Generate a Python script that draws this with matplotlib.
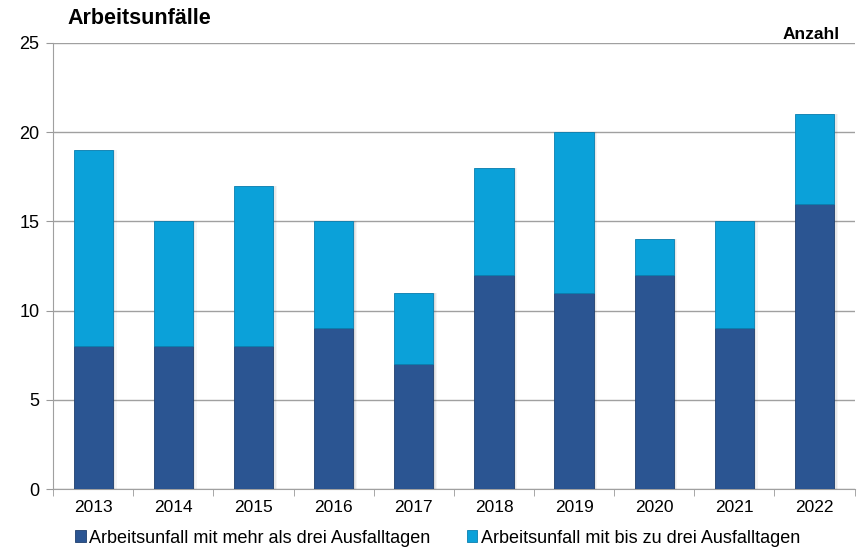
import matplotlib.pyplot as plt
import numpy as np

years = ['2013', '2014', '2015', '2016', '2017', '2018', '2019', '2020', '2021', '2022']
mehr_als_drei = [8, 8, 8, 9, 7, 12, 11, 12, 9, 16]
bis_zu_drei = [11, 7, 9, 6, 4, 6, 9, 2, 6, 5]

dark = '#2b5592'
light = '#0ba1d9'

plt.rcParams['font.family'] = ['Liberation Sans', 'DejaVu Sans']

fig = plt.figure(figsize=(8.58, 5.49), dpi=100)
ax = fig.add_axes([0.062, 0.109, 0.934, 0.813])

x = np.arange(len(years))
w = 0.49
totals = np.array(mehr_als_drei) + np.array(bis_zu_drei)

# soft drop shadow to the right of each bar
for off, a in [(0.045, 0.06), (0.03, 0.08), (0.015, 0.10)]:
    ax.bar(x + off, totals, w, color='#555555', alpha=a, linewidth=0, zorder=2)

ax.bar(x, mehr_als_drei, w, color=dark, edgecolor='#1f3f6e', linewidth=0.6,
       label='Arbeitsunfall mit mehr als drei Ausfalltagen', zorder=3)
ax.bar(x, bis_zu_drei, w, bottom=mehr_als_drei, color=light, edgecolor='#0a7fb0',
       linewidth=0.6, label='Arbeitsunfall mit bis zu drei Ausfalltagen', zorder=3)

ax.set_xlim(-0.5, len(years) - 0.5)
ax.set_ylim(0, 25)
ax.set_yticks(range(0, 26, 5))
ax.set_xticks(x)
ax.set_xticklabels(years, fontsize=12.5)
ax.set_xticks(np.arange(-0.5, len(years), 1), minor=True)
ax.tick_params(axis='x', which='major', length=0, pad=8)
ax.tick_params(axis='x', which='minor', length=5, color='#999999')
ax.tick_params(axis='y', length=5, color='#999999', labelsize=13, pad=5)

ax.yaxis.grid(True, color='#a0a0a0', linewidth=1)
ax.set_axisbelow(True)
for s in ['top', 'right']:
    ax.spines[s].set_visible(False)
ax.spines['left'].set_color('#a0a0a0')
ax.spines['bottom'].set_color('#a0a0a0')

fig.text(0.079, 0.967, 'Arbeitsunfälle', fontsize=15.5, fontweight='bold',
         va='center')
fig.text(0.979, 0.938, 'Anzahl', fontsize=12.5, fontweight='bold',
         va='center', ha='right')

fig.legend(loc='center', bbox_to_anchor=(0.51, 0.02), ncol=2, frameon=False,
           fontsize=13, handlelength=0.6, handleheight=0.6, handletextpad=0.2,
           columnspacing=2.0)

fig.savefig('out.png', dpi=100)
